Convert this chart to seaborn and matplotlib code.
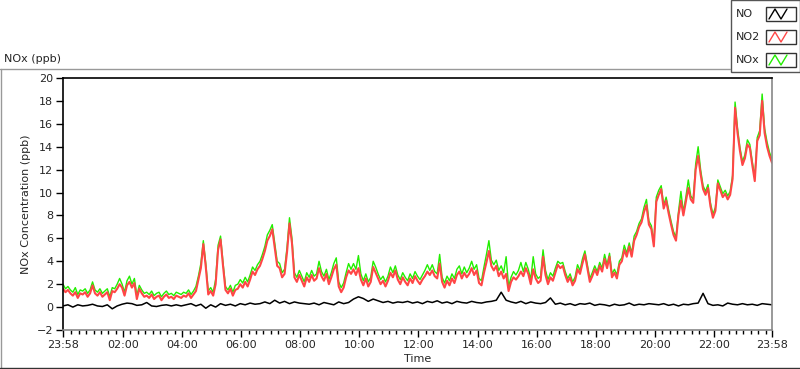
import numpy as np
import matplotlib
matplotlib.use('Agg')
import matplotlib.pyplot as plt
import seaborn as sns
from matplotlib.lines import Line2D
from matplotlib.patches import Rectangle

# NO2 (ppb), one sample every 5 min from 23:58 to 23:58
no2 = [1.6, 1.3, 1.5, 1.2, 1.0, 1.3, 0.8, 1.2, 1.1, 1.3, 0.9, 1.2,
       1.9, 1.2, 1.0, 1.3, 0.9, 1.1, 1.3, 0.6, 1.4, 1.3, 1.6,
       2.0, 1.7, 1.0, 1.9, 2.2, 1.7, 2.1, 0.7, 1.6, 1.2,
       0.9, 1.0, 0.8, 1.1, 0.7, 0.9, 1.0, 0.6, 0.9, 1.1, 0.8, 0.9, 0.7, 1.0, 0.9,
       0.8, 1.0, 0.9, 1.2, 0.8, 1.1, 1.4,
       2.4, 3.4, 5.5, 3.5, 1.1, 1.4, 1.0, 2.0, 5.0, 5.9, 3.6, 1.5,
       1.2, 1.6, 1.0, 1.5, 1.6, 2.0, 1.7, 2.2, 1.8, 2.4, 3.1, 2.8, 3.3, 3.6,
       4.2, 4.9, 5.8, 6.2, 6.8, 5.2, 3.6, 3.4, 2.6, 2.9, 4.8, 7.3, 5.6, 2.6, 2.2, 2.8,
       2.3, 1.8, 2.6, 2.2, 2.8, 2.3, 2.5, 3.4, 2.7, 2.3, 2.9, 2.0, 2.6, 3.3, 3.7, 1.8,
       1.3, 1.7, 2.6, 3.2, 2.9, 3.3, 2.8, 3.4,
       2.4, 1.9, 2.5, 1.8, 2.2, 3.5, 3.0, 2.5, 2.0, 2.3, 1.8, 2.3, 3.0, 2.6, 3.2, 2.4,
       2.0, 2.6, 2.2, 1.9, 2.5, 2.1, 2.7, 2.3,
       2.0, 2.4, 2.7, 3.1, 2.8, 3.2, 2.7, 2.5, 3.8, 2.2, 1.7, 2.3, 1.9, 2.5, 2.1, 2.8,
       3.1, 2.5, 3.0, 2.6, 2.9, 3.4, 2.8, 3.2, 2.1, 1.9,
       3.0, 3.9, 4.9, 3.6, 3.2, 3.6, 2.7, 3.1, 2.5, 2.9, 1.4, 2.2, 2.6, 2.4, 2.7, 3.1,
       2.7, 3.4, 2.9, 2.0, 3.3, 2.5, 2.1,
       2.3, 4.4, 2.8, 2.0, 2.6, 2.3, 3.0, 3.7, 3.4, 3.6, 2.8, 2.2, 2.6, 1.9, 2.3, 3.3,
       2.9, 3.8, 4.6, 3.4, 2.2, 2.7, 3.3, 2.8, 3.6, 3.1, 4.2, 3.4, 4.4,
       2.6, 3.0, 2.5, 3.7, 4.0, 5.0, 4.4, 5.3, 4.4, 5.8, 6.3, 7.0, 7.4, 8.3, 8.9, 7.2,
       6.8, 5.3, 9.2, 9.8,
       10.3, 8.6, 9.3, 8.2, 7.2, 6.3, 5.8, 8.0, 9.3, 8.0, 9.2, 10.4, 9.4, 9.1, 12.0, 13.2,
       11.6, 10.3, 9.8, 10.4, 8.8, 7.8, 8.4, 10.8, 10.2, 9.6, 9.9, 9.4, 9.8, 11.2,
       17.4, 15.2, 13.6, 12.4, 13.0, 14.2, 13.9, 12.4, 11.0, 14.5, 15.0, 18.0, 15.2, 14.0,
       13.2, 12.6]

# NOx (ppb), same sampling
nox = [2.0, 1.6, 1.8, 1.5, 1.3, 1.7, 1.1, 1.5, 1.4, 1.6, 1.2, 1.5,
       2.2, 1.5, 1.3, 1.6, 1.2, 1.4, 1.6, 0.9, 1.7, 1.6, 2.0,
       2.5, 2.0, 1.3, 2.3, 2.7, 2.0, 2.5, 1.0, 1.9, 1.5,
       1.2, 1.3, 1.1, 1.4, 1.0, 1.2, 1.3, 0.9, 1.2, 1.4, 1.1, 1.2, 1.0, 1.3, 1.2,
       1.1, 1.3, 1.2, 1.5, 1.1, 1.4, 1.8,
       2.7, 3.8, 5.8, 3.8, 1.4, 1.7, 1.3, 2.4, 5.4, 6.2, 3.9, 1.8,
       1.5, 1.9, 1.3, 1.9, 2.0, 2.4, 2.1, 2.6, 2.2, 2.8, 3.5, 3.2, 3.7, 4.0,
       4.6, 5.3, 6.3, 6.7, 7.2, 5.6, 4.0, 3.8, 3.0, 3.3, 5.2, 7.8, 6.0, 3.0, 2.6, 3.2,
       2.7, 2.2, 3.0, 2.6, 3.2, 2.7, 2.9, 4.0, 3.1, 2.7, 3.3, 2.4, 3.0, 3.8, 4.3, 2.2,
       1.7, 2.1, 3.0, 3.8, 3.3, 3.8, 3.3, 4.5,
       2.9, 2.3, 2.9, 2.2, 2.6, 4.0, 3.5, 2.9, 2.4, 2.7, 2.2, 2.7, 3.5, 3.0, 3.6, 2.8,
       2.4, 3.0, 2.6, 2.3, 2.9, 2.5, 3.1, 2.7,
       2.4, 2.8, 3.2, 3.7, 3.2, 3.7, 3.1, 2.9, 4.6, 2.6, 2.1, 2.7, 2.3, 2.9, 2.5, 3.3,
       3.6, 2.9, 3.5, 3.0, 3.4, 4.0, 3.3, 3.7, 2.5, 2.3,
       3.5, 4.6, 5.8, 4.1, 3.7, 4.1, 3.2, 3.6, 3.0, 4.4, 1.8, 2.6, 3.1, 2.8, 3.2, 3.9,
       3.1, 3.9, 3.3, 2.4, 4.4, 2.9, 2.5,
       2.7, 5.0, 3.2, 2.4, 3.0, 2.7, 3.4, 4.0, 3.8, 3.9, 3.1, 2.5, 2.9, 2.2, 2.6, 3.7,
       3.2, 4.2, 4.9, 3.7, 2.5, 3.0, 3.6, 3.1, 3.9, 3.4, 4.6, 3.7, 4.7,
       2.9, 3.3, 2.8, 4.0, 4.3, 5.4, 4.7, 5.6, 4.7, 6.2, 6.6, 7.3, 7.7, 8.7, 9.4, 7.5,
       7.1, 5.6, 9.6, 10.2,
       10.6, 8.9, 9.6, 8.5, 7.5, 6.6, 6.1, 8.3, 10.1, 8.3, 9.6, 11.1, 9.7, 9.4, 12.5, 14.0,
       12.0, 10.6, 10.1, 10.7, 9.1, 8.1, 8.7, 11.1, 10.5, 9.9, 10.2, 9.7, 10.1, 11.5,
       17.9, 15.6, 13.9, 12.7, 13.3, 14.6, 14.2, 12.7, 11.3, 14.8, 15.4, 18.6, 15.6, 14.4,
       13.5, 12.9]

# NO (ppb), one sample every 10 min
no = [0.1, 0.2, 0.0, 0.2, 0.1, 0.15, 0.25, 0.1, 0.05, 0.2, -0.15, 0.1, 0.25, 0.35,
      0.3, 0.15, 0.2, 0.4, 0.1, 0.05, 0.15, 0.2, 0.1, 0.2, 0.1,
      0.2, 0.3, 0.1, 0.25, -0.1, 0.2, 0.0, 0.3, 0.15, 0.25, 0.1, 0.3, 0.2, 0.35, 0.25,
      0.3, 0.45, 0.3, 0.6, 0.35, 0.5, 0.3, 0.45, 0.35,
      0.3, 0.25, 0.35, 0.2, 0.4, 0.3, 0.2, 0.45, 0.3, 0.4, 0.7, 0.9, 0.75, 0.5, 0.7,
      0.55, 0.4, 0.5, 0.35, 0.45, 0.4, 0.5, 0.35, 0.45,
      0.3, 0.5, 0.4, 0.55, 0.35, 0.45, 0.3, 0.5, 0.4, 0.35, 0.5, 0.4, 0.35, 0.45, 0.5,
      0.6, 1.3, 0.6, 0.45, 0.35, 0.5, 0.3, 0.45, 0.35,
      0.3, 0.4, 0.8, 0.25, 0.35, 0.2, 0.3, 0.15, 0.3, 0.25, 0.35, 0.15, 0.25, 0.2, 0.1,
      0.25, 0.15, 0.2, 0.35, 0.15, 0.25, 0.2, 0.3, 0.25,
      0.2, 0.3, 0.15, 0.25, 0.1, 0.25, 0.2, 0.3, 0.35, 1.2, 0.3, 0.15, 0.2, 0.1, 0.35,
      0.25, 0.2, 0.3, 0.2, 0.25, 0.15, 0.3, 0.25, 0.2]

t_5 = np.linspace(0, 24, len(no2))
t_10 = np.linspace(0, 24, len(no))

major_labels = ['23:58', '02:00', '04:00', '06:00', '08:00', '10:00', '12:00',
                '14:00', '16:00', '18:00', '20:00', '22:00', '23:58']

c_no, c_no2, c_nox = '#000000', '#ff4646', '#22ee00'

sns.set_style('white')
plt.rcParams['font.family'] = ['DejaVu Sans']

fig = plt.figure(figsize=(8, 3.69), dpi=100)
ax = fig.add_axes([63 / 800, 1 - 330 / 369, 709 / 800, 252 / 369])

sns.lineplot(x=t_5, y=nox, ax=ax, color=c_nox, linewidth=1.0)
sns.lineplot(x=t_5, y=no2, ax=ax, color=c_no2, linewidth=1.5)
sns.lineplot(x=t_10, y=no, ax=ax, color=c_no, linewidth=1.1)

ax.set_xlim(0, 24)
ax.set_ylim(-2, 20)
off = 2 / 60
major = [0] + [off + 2 * k for k in range(1, 12)] + [24]
minor = [off + 0.25 * m for m in range(1, 96) if m % 8 != 0]
ax.set_xticks(major)
ax.set_xticklabels(major_labels)
ax.set_xticks(minor, minor=True)
ax.set_yticks(range(-2, 21, 2))
ax.tick_params(axis='both', which='major', direction='out', length=5, width=1,
               color='black', labelsize=8, pad=2, bottom=True, left=True)
ax.tick_params(axis='x', which='minor', direction='out', length=3, width=1,
               color='black', bottom=True)
ax.set_xlabel('Time', fontsize=8, labelpad=3)
ax.set_ylabel('NOx Concentration (ppb)', fontsize=8, labelpad=4)

for side in ['top', 'left']:
    ax.spines[side].set_color('black')
    ax.spines[side].set_linewidth(1.2)
for side in ['bottom', 'right']:
    ax.spines[side].set_color('#888888')
    ax.spines[side].set_linewidth(1.2)

def fx(x):
    return x / 800

def fy(y):
    return 1 - y / 369

# panel frame
fig.add_artist(Line2D([fx(0), fx(730)], [fy(68.5), fy(68.5)], color='#999999', lw=1))
fig.add_artist(Line2D([fx(0.5), fx(0.5)], [fy(68.5), fy(369)], color='#999999', lw=1))
fig.add_artist(Line2D([fx(0), fx(800)], [fy(368), fy(368)], color='#333333', lw=1))
fig.text(fx(4), fy(59), 'NOx (ppb)', fontsize=8, ha='left', va='center')

# legend
fig.add_artist(Rectangle((fx(730.5), fy(72)), fx(69), 72 / 369, fill=True,
                         facecolor='white', edgecolor='#555555', lw=1))
for name, col, yc in [('NO', c_no, 14), ('NO2', c_no2, 37), ('NOx', c_nox, 60)]:
    fig.text(fx(736), fy(yc), name, fontsize=8, ha='left', va='center')
    fig.add_artist(Rectangle((fx(766), fy(yc + 7)), fx(30), 14 / 369, fill=False,
                             edgecolor='#333333', lw=1))
    zx = [769, 775, 781, 787]
    zy = [yc + 5, yc - 5, yc + 5, yc - 5]
    fig.add_artist(Line2D([fx(v) for v in zx], [fy(v) for v in zy], color=col, lw=1))

fig.savefig('out.png', dpi=100)
